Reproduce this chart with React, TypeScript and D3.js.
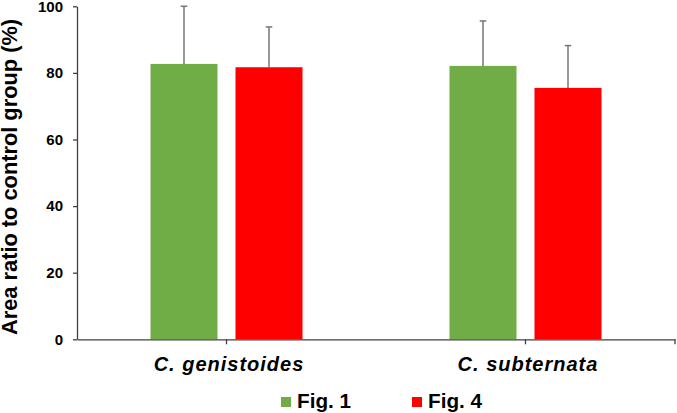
import React, { useRef, useEffect } from 'react';
import * as d3 from 'd3';

const categories = ['C. genistoides', 'C. subternata'];
const seriesNames = ['Fig. 1', 'Fig. 4'];
const seriesColors = ['#70AD47', '#FF0000'];
// mean values per series, one entry per category
const fig1Values = [82.7, 82.1];
const fig4Values = [81.7, 75.5];
// upper error (+SD)
const fig1Errors = [17.3, 13.5];
const fig4Errors = [12.1, 12.7];
const yTicks = [0, 20, 40, 60, 80, 100];
const yLabel = 'Area ratio to control group (%)';

const App: React.FC = () => {
  const svgRef = useRef<SVGSVGElement | null>(null);

  useEffect(() => {
    if (!svgRef.current) return;
    const svg = d3.select(svgRef.current);
    svg.selectAll('*').remove();

    const left = 77;
    const right = 675;
    const top = 6.3;
    const bottom = 339.3;
    const font = '"Liberation Sans", Arial, sans-serif';

    const values = [fig1Values, fig4Values];
    const errors = [fig1Errors, fig4Errors];

    const x0 = d3.scaleBand().domain(categories).range([left, right]).padding(0);
    const groupWidth = 152;
    const x1 = d3.scaleBand().domain(seriesNames).range([0, groupWidth]).paddingInner(0.2118).paddingOuter(0);
    const y = d3.scaleLinear().domain([0, 100]).range([bottom, top]);

    const groupStart = (c: string) => (x0(c) ?? 0) + (x0.bandwidth() - groupWidth) / 2;

    // bars
    seriesNames.forEach((s, si) => {
      svg.append('g')
        .selectAll('rect')
        .data(categories)
        .enter()
        .append('rect')
        .attr('x', c => groupStart(c) + (x1(s) ?? 0))
        .attr('y', (c, i) => y(values[si][i]))
        .attr('width', x1.bandwidth())
        .attr('height', (c, i) => bottom - y(values[si][i]))
        .attr('fill', seriesColors[si]);
    });

    // error bars (upper only)
    seriesNames.forEach((s, si) => {
      const g = svg.append('g').attr('stroke', '#767676').attr('stroke-width', 1.5);
      categories.forEach((c, i) => {
        const cx = groupStart(c) + (x1(s) ?? 0) + x1.bandwidth() / 2;
        const y1 = y(values[si][i]);
        const y2 = y(values[si][i] + errors[si][i]);
        g.append('line').attr('x1', cx).attr('x2', cx).attr('y1', y1).attr('y2', y2);
        g.append('line').attr('x1', cx - 3.3).attr('x2', cx + 3.3).attr('y1', y2).attr('y2', y2);
      });
    });

    // y axis
    const yAxis = svg.append('g')
      .attr('transform', `translate(${left},0)`)
      .call(d3.axisLeft(y).tickValues(yTicks).tickSize(4).tickSizeOuter(0).tickPadding(10));
    yAxis.select('.domain').attr('stroke', '#404040').attr('stroke-width', 1.3);
    yAxis.selectAll('.tick line').attr('stroke', '#404040').attr('stroke-width', 1.3);
    yAxis.selectAll('.tick text')
      .attr('fill', '#000')
      .style('font-family', font)
      .style('font-size', '15px')
      .style('font-weight', 'bold');

    // x axis
    const xAxis = svg.append('g')
      .attr('transform', `translate(0,${bottom})`)
      .call(d3.axisBottom(x0).tickSize(5).tickSizeOuter(0).tickFormat(() => ''));
    xAxis.select('.domain').attr('stroke', '#404040').attr('stroke-width', 1.3);
    xAxis.selectAll('.tick line').attr('stroke', '#404040').attr('stroke-width', 1.3);
    xAxis.append('line')
      .attr('x1', right).attr('x2', right).attr('y1', 0).attr('y2', 5)
      .attr('stroke', '#404040').attr('stroke-width', 1.3);

    // category labels
    svg.append('g')
      .selectAll('text')
      .data(categories)
      .enter()
      .append('text')
      .attr('x', c => (x0(c) ?? 0) + x0.bandwidth() / 2 + 2.5)
      .attr('y', 370.7)
      .attr('text-anchor', 'middle')
      .style('font-family', font)
      .style('font-size', '20px')
      .style('font-weight', 'bold')
      .style('font-style', 'italic')
      .style('letter-spacing', '1px')
      .text(c => c);

    // y label
    svg.append('text')
      .attr('transform', 'translate(17.3,335) rotate(-90)')
      .attr('text-anchor', 'start')
      .style('font-family', font)
      .style('font-size', '21.8px')
      .style('font-weight', 'bold')
      .text(yLabel);

    // legend
    const legendX = [281, 412];
    const legend = svg.append('g');
    seriesNames.forEach((s, si) => {
      legend.append('rect')
        .attr('x', legendX[si]).attr('y', 397)
        .attr('width', 10).attr('height', 10)
        .attr('fill', seriesColors[si]);
      legend.append('text')
        .attr('x', legendX[si] + 16).attr('y', 408.3)
        .style('font-family', font)
        .style('font-size', '20.7px')
        .style('font-weight', 'bold')
        .text(s);
    });
  }, []);

  return (
    <svg
      ref={svgRef}
      width={677}
      height={413}
      style={{ position: 'absolute', left: 0, top: 0, background: '#fff' }}
    />
  );
};

export default App;
